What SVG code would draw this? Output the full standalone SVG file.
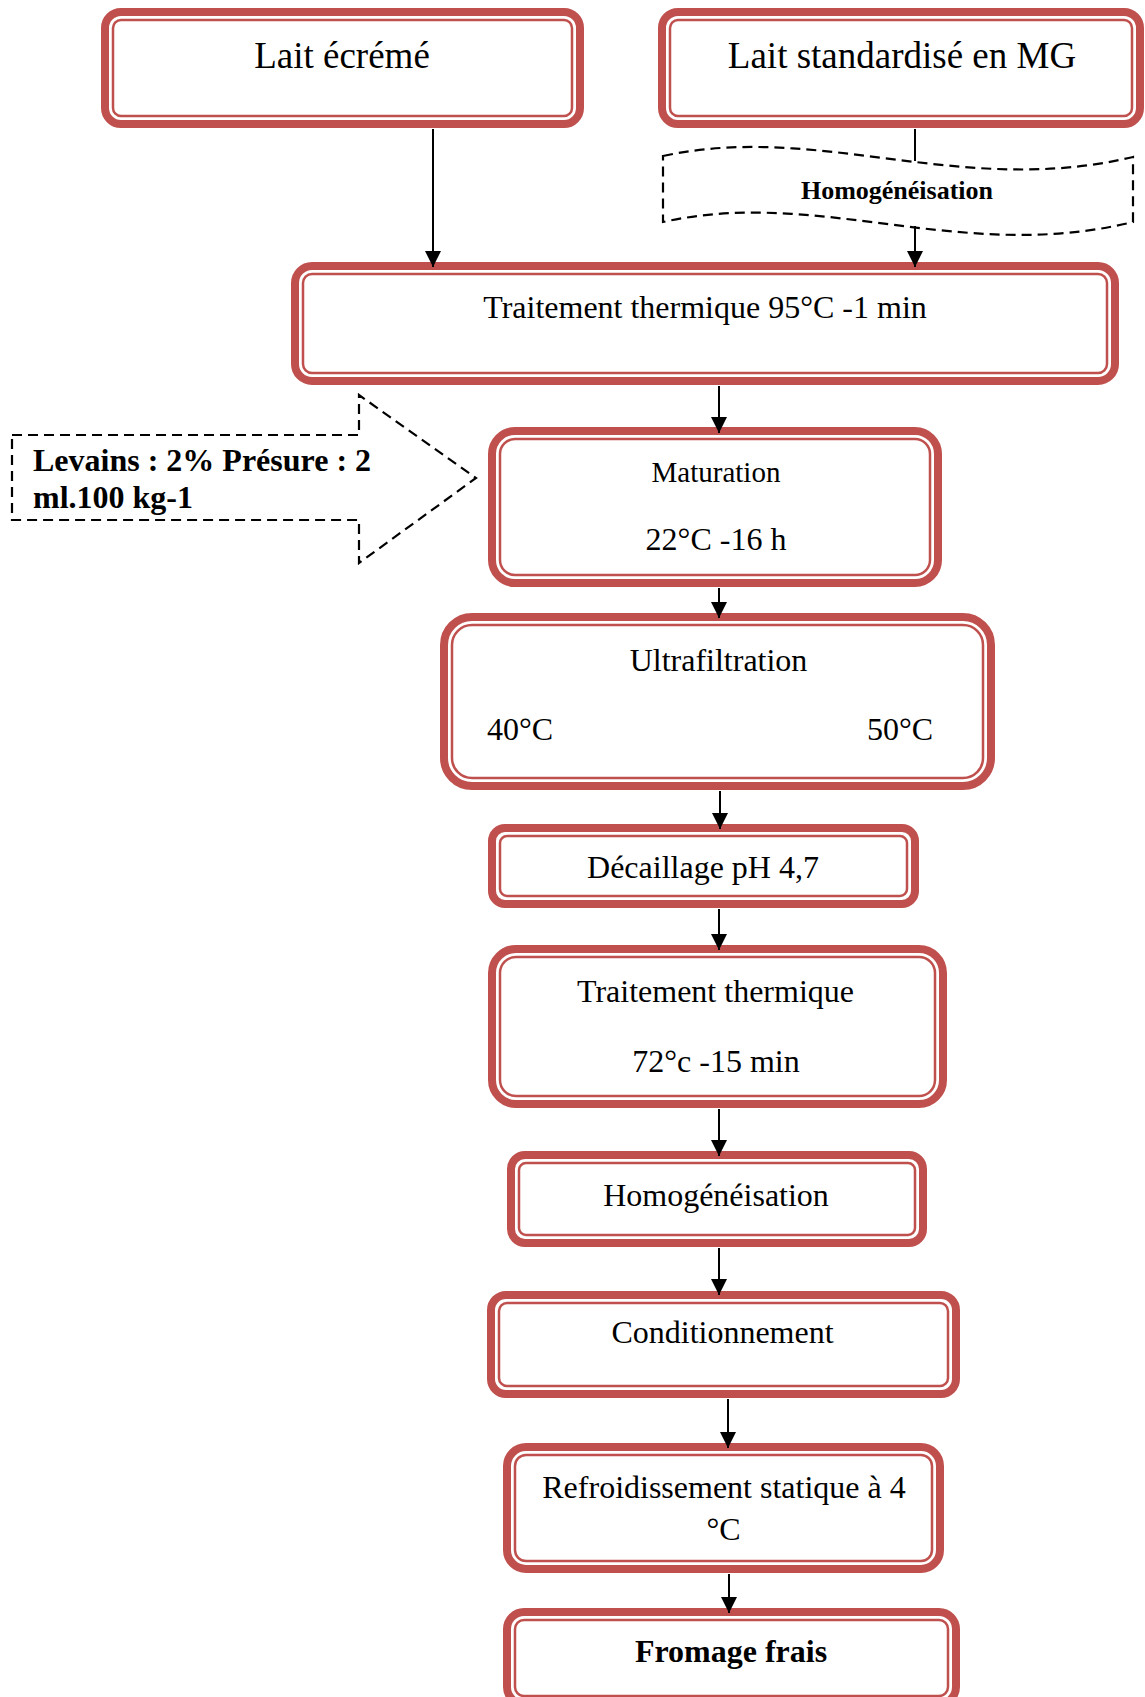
<svg xmlns="http://www.w3.org/2000/svg" width="1145" height="1697" viewBox="0 0 1145 1697">
  <style>
    .outer { fill: #ffffff; stroke: #C0504D; stroke-width: 8; }
    .inner { fill: none; stroke: #C0504D; stroke-width: 2.5; }
    .t { font-family: "Liberation Serif", "Times New Roman", serif; fill: #000000; }
    .c { text-anchor: middle; }
    .b { font-weight: bold; }
    .dash { fill: #ffffff; stroke: #000000; stroke-width: 2.2; stroke-dasharray: 10 6; }
    .link { fill: none; stroke: #000000; stroke-width: 2; }
  </style>
  <defs>
    <marker id="arrow" markerUnits="userSpaceOnUse" markerWidth="16" markerHeight="16" refX="16" refY="8" orient="auto">
      <path d="M0,0 L16,8 L0,16 z" fill="#000000"/>
    </marker>
  </defs>

  <rect width="1145" height="1697" fill="#ffffff"/>

  <!-- Inputs -->
  <g id="lait-ecreme">
    <rect class="outer" x="105" y="12" width="475" height="112" rx="16"/>
    <rect class="inner" x="113" y="20" width="459" height="96" rx="8"/>
    <text class="t c" x="342" y="68" font-size="37">Lait écrémé</text>
  </g>

  <g id="lait-standardise">
    <rect class="outer" x="662" y="12" width="478" height="112" rx="16"/>
    <rect class="inner" x="670" y="20" width="462" height="96" rx="8"/>
    <text class="t c" x="902" y="68" font-size="37">Lait standardisé en MG</text>
  </g>

  <g id="homogeneisation-1">
    <path class="dash" d="M663,156 C820,122 960,198 1133,157 L1133,222 C960,264 820,187 663,222 Z"/>
    <text class="t c b" x="897" y="199" font-size="26">Homogénéisation</text>
  </g>

  <!-- Process steps -->
  <g id="traitement-95">
    <rect class="outer" x="295" y="266" width="820" height="115" rx="17"/>
    <rect class="inner" x="303" y="274" width="804" height="99" rx="9"/>
    <text class="t c" x="705" y="318" font-size="32">Traitement thermique 95°C -1 min</text>
  </g>

  <g id="levains">
    <path class="dash" d="M12,435 L359,435 L359,395 L476,478 L359,563 L359,520 L12,520 Z"/>
    <text class="t b" x="33" y="471" font-size="32">Levains : 2% Présure : 2</text>
    <text class="t b" x="33" y="508" font-size="32">ml.100 kg-1</text>
  </g>

  <g id="maturation">
    <rect class="outer" x="492" y="431" width="446" height="152" rx="23"/>
    <rect class="inner" x="500" y="439" width="430" height="136" rx="15"/>
    <text class="t c" x="716" y="482" font-size="29">Maturation</text>
    <text class="t c" x="716" y="550" font-size="32">22°C -16 h</text>
  </g>

  <g id="ultrafiltration">
    <rect class="outer" x="444" y="617" width="547" height="169" rx="28"/>
    <rect class="inner" x="452" y="625" width="531" height="153" rx="20"/>
    <text class="t c" x="718.5" y="671" font-size="32">Ultrafiltration</text>
    <text class="t" x="487" y="740" font-size="32">40°C</text>
    <text class="t" x="867" y="740" font-size="32">50°C</text>
  </g>

  <g id="decaillage">
    <rect class="outer" x="492" y="828" width="423" height="76" rx="13"/>
    <rect class="inner" x="500" y="836" width="407" height="60" rx="7"/>
    <text class="t c" x="703" y="878" font-size="32">Décaillage pH 4,7</text>
  </g>

  <g id="traitement-72">
    <rect class="outer" x="492" y="949" width="451" height="155" rx="24"/>
    <rect class="inner" x="500" y="957" width="435" height="139" rx="16"/>
    <text class="t c" x="715.5" y="1002" font-size="32">Traitement thermique</text>
    <text class="t c" x="716" y="1072" font-size="32">72°c -15 min</text>
  </g>

  <g id="homogeneisation-2">
    <rect class="outer" x="511" y="1155" width="412" height="88" rx="14"/>
    <rect class="inner" x="519" y="1163" width="396" height="72" rx="7"/>
    <text class="t c" x="716" y="1206" font-size="32">Homogénéisation</text>
  </g>

  <g id="conditionnement">
    <rect class="outer" x="491" y="1295" width="465" height="99" rx="15"/>
    <rect class="inner" x="499" y="1303" width="449" height="83" rx="8"/>
    <text class="t c" x="722.5" y="1343" font-size="32">Conditionnement</text>
  </g>

  <g id="refroidissement">
    <rect class="outer" x="507" y="1447" width="433" height="122" rx="19"/>
    <rect class="inner" x="515" y="1455" width="417" height="106" rx="11"/>
    <text class="t c" x="724" y="1498" font-size="32">Refroidissement statique à 4</text>
    <text class="t c" x="723.5" y="1540" font-size="32">°C</text>
  </g>

  <g id="fromage-frais">
    <rect class="outer" x="507" y="1612" width="449" height="92" rx="17"/>
    <rect class="inner" x="515" y="1620" width="433" height="76" rx="9"/>
    <text class="t c b" x="731" y="1662" font-size="32">Fromage frais</text>
  </g>

  <!-- Connectors -->
  <g id="connectors">
    <line class="link" x1="433" y1="129" x2="433" y2="267" marker-end="url(#arrow)"/>
    <line class="link" x1="915" y1="129" x2="915" y2="161"/>
    <line class="link" x1="915" y1="226" x2="915" y2="267" marker-end="url(#arrow)"/>
    <line class="link" x1="719" y1="386" x2="719" y2="433" marker-end="url(#arrow)"/>
    <line class="link" x1="719" y1="588" x2="719" y2="618" marker-end="url(#arrow)"/>
    <line class="link" x1="720" y1="791" x2="720" y2="829" marker-end="url(#arrow)"/>
    <line class="link" x1="719" y1="909" x2="719" y2="950" marker-end="url(#arrow)"/>
    <line class="link" x1="719" y1="1109" x2="719" y2="1156" marker-end="url(#arrow)"/>
    <line class="link" x1="719" y1="1248" x2="719" y2="1295" marker-end="url(#arrow)"/>
    <line class="link" x1="728" y1="1399" x2="728" y2="1448" marker-end="url(#arrow)"/>
    <line class="link" x1="729" y1="1574" x2="729" y2="1613" marker-end="url(#arrow)"/>
  </g>
</svg>
